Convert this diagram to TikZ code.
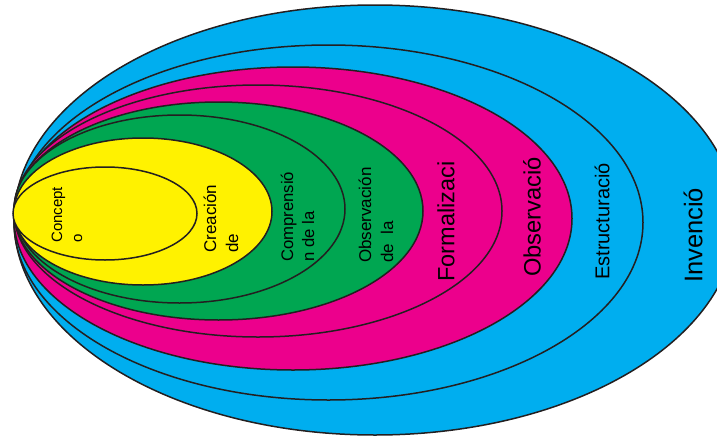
\documentclass[tikz,border=0pt]{standalone}
\usepackage{fontspec}
\setmainfont{Liberation Sans}
\definecolor{cblue}{HTML}{00AEEF}
\definecolor{cmag}{HTML}{EC008C}
\definecolor{cgreen}{HTML}{00A651}
\definecolor{cyel}{HTML}{FFF200}
\definecolor{cline}{HTML}{231F20}
\tikzset{
  ring/.style={draw=cline, line width=1.5pt},
  lab/.style={rotate=90, anchor=west, inner sep=0pt, align=left, text=black},
}
\begin{document}
\begin{tikzpicture}[x=1pt, y=-1pt]
\useasboundingbox (0,0) rectangle (717,439);
\clip (0,0) rectangle (717,439);
\path[ring, fill=cblue]  (375,220)   ellipse [x radius=361pt,   y radius=215pt];
\path[ring, fill=cblue]  (328.5,222.5) ellipse [x radius=314.5pt, y radius=177.5pt];
\path[ring, fill=cmag]   (293,218.5) ellipse [x radius=279pt,   y radius=151.5pt];
\path[ring, fill=cmag]   (258,211)   ellipse [x radius=244pt,   y radius=126pt];
\path[ring, fill=cgreen] (218.5,211) ellipse [x radius=204.5pt, y radius=109pt];
\path[ring, fill=cgreen] (179.5,209) ellipse [x radius=165.5pt, y radius=94pt];
\path[ring, fill=cyel]   (143,211.5) ellipse [x radius=129pt,   y radius=73.5pt];
\path[ring, fill=cyel]   (105,213.5) ellipse [x radius=92pt,    y radius=46.5pt];

\node[lab, font=\fontsize{15}{20}\selectfont] (l1) at (67,243) {Concept\\o};
\node[lab, font=\fontsize{17}{22}\selectfont] (l2) at (221,253) {Creación\\de};
\node[lab, font=\fontsize{16.7}{21}\selectfont] (l3) at (297.5,262) {Comprensió\\n de la};
\node[lab, font=\fontsize{17}{22}\selectfont] (l4) at (376,263) {Observación\\de~\ la};
\node[lab, font=\fontsize{23.5}{28}\selectfont] (l5) at (446,282) {Formalizaci};
\node[lab, font=\fontsize{23.7}{28}\selectfont] (l6) at (532,277) {Observació};
\node[lab, font=\fontsize{20}{24}\selectfont] (l7) at (602,280) {Estructuració};
\node[lab, font=\fontsize{25.5}{30}\selectfont] (l8) at (693,283) {Invenció};
\end{tikzpicture}
\end{document}
